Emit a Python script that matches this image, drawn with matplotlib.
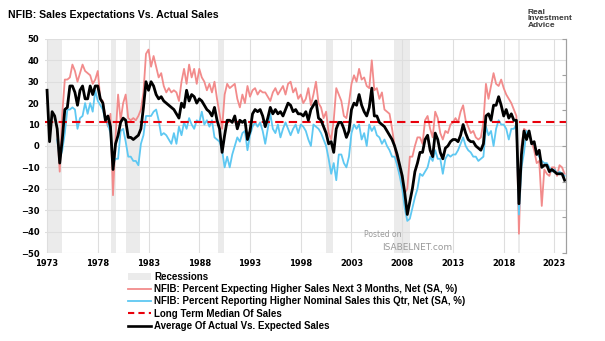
import numpy as np
import matplotlib
matplotlib.use("Agg")
import matplotlib.pyplot as plt
from matplotlib.patches import Patch
from matplotlib.lines import Line2D

# --- data (quarterly readings, first point ~ mid 1973) ---
start_date = 1973.7

black = [26, 2, 16, 14,
         8, -8, 3, 17, 18, 28, 28, 25, 19, 26, 28, 22, 22, 28, 24, 28,
         28, 22, 20, 12, 14, 9, -11, 1, 5, 11, 13, 12, 4, 4, 3, 4,
         5, 8, 18, 30, 26, 30, 28, 24, 22, 23, 21, 20, 19, 18, 17, 15,
         13, 20, 18, 26, 21, 24, 23, 20, 22, 21, 19, 17, 16, 14, 18, 12,
         8, -3, 5, 12, 12, 11, 14, 8, 12, 11, 12, 3, 7, 15, 17, 16,
         17, 14, 9, 13, 18, 15, 17, 15, 16, 14, 17, 20, 19, 16, 17, 15,
         15, 14, 16, 12, 17, 19, 21, 13, 12, 9, 6, 1, 2, -3, 8, 11,
         11, 8, 4, 7, 17, 20, 19, 24, 19, 16, 14, 18, 27, 14, 14, 11,
         10, 9, 7, 5, 3, 0, -4, -9, -14, -22, -32, -26, -20, -12, -8, -3,
         -3, 3, 5, -2, -5, 6, 3, -3, -6, -1, 0, 2, 3, 3, 2, 5,
         10, 6, 3, 2, 2, 0, -1, -2, 1, 14, 15, 12, 19, 19, 23, 19,
         14, 17, 13, 15, 12, 12, -27, -4, 7, 3, 7, 1, 2, -4, -2, -10,
         -9, -9, -12, -11, -12, -13, -13, -13, -16]

expected = [np.nan, np.nan, np.nan, np.nan,
            8, -12, 15, 31, 31, 32, 38, 35, 30, 34, 38, 35, 34, 33, 29, 31,
            35, 22, 21, 14, 9, 15, -23, 4, 24, 12, 20, 24, 13, 12, 13, 12,
            14, 17, 25, 43, 45, 37, 42, 37, 32, 34, 28, 25, 27, 25, 26, 25,
            21, 30, 36, 29, 38, 32, 36, 29, 36, 32, 30, 26, 29, 25, 30, 22,
            15, 8, 24, 29, 27, 28, 29, 22, 18, 24, 20, 28, 23, 26, 27, 24,
            26, 25, 25, 23, 21, 25, 27, 24, 26, 28, 24, 29, 30, 25, 27, 22,
            24, 20, 22, 27, 19, 24, 30, 20, 18, 13, 16, 6, 3, 12, 27, 24,
            21, 14, 13, 20, 29, 33, 30, 36, 31, 32, 28, 27, 40, 26, 27, 22,
            25, 17, 16, 15, 8, 0, -8, -13, -17, -22, -20, -5, -5, 0, 4, 4,
            1, 12, 14, 8, 4, 16, 13, 6, 3, 7, 6, 10, 11, 13, 11, 16,
            19, 12, 9, 6, 7, 4, 3, 4, 11, 29, 22, 28, 34, 29, 28, 31,
            27, 24, 22, 20, 17, 14, -41, 0, 8, 7, 5, 2, -2, -8, -7, -28,
            -11, -13, -14, -10, -10, -14, -9, -10, -13]

actual = [np.nan, np.nan, np.nan, np.nan,
          3, -6, -2, 6, 17, 17, 18, 17, 8, 13, 14, 20, 15, 20, 16, 26,
          21, 19, 17, 12, 10, 6, -8, -6, -6, 7, 8, 2, -5, -5, -7, -7,
          -9, 1, 5, 14, 14, 14, 16, 17, 12, 5, 6, 5, 3, 1, 6, 1,
          9, 5, 11, 8, 13, 10, 8, 12, 11, 16, 10, 12, 9, 12, 4, 3,
          2, -2, -10, -5, -10, -4, 0, 4, 2, 6, 7, -2, 5, 9, 11, 9,
          11, 7, 1, 8, 15, 8, 6, 10, 4, 8, 11, 8, 5, 8, 10, 6,
          10, 9, 7, 3, 0, 10, 9, 8, 6, 3, 0, -6, -13, -8, -16, -4,
          -4, -8, -10, -5, 6, 10, 8, 10, 3, 6, 0, 10, 7, 9, 5, 4,
          1, 3, 0, -2, -5, -5, -9, -14, -20, -29, -35, -34, -29, -24, -20, -13,
          -14, -12, -10, -5, -7, -2, -6, -6, -13, -6, -4, -5, -4, -4, -2, 1,
          4, 0, -2, -3, -5, -5, -7, -6, -5, 9, 5, 7, 0, 8, 12, 10,
          10, 8, 3, 8, 8, 10, -32, -10, -3, 7, 5, 2, 1, -3, -5, -7,
          -8, -8, -10, -12, -11, -13, -12, -13, -14]

median_sales = 11

rec_start = [1973.83, 1980.0, 1981.5, 1990.5, 2001.17, 2007.92, 2020.08]
rec_end = [1975.17, 1980.5, 1982.83, 1991.17, 2001.83, 2009.5, 2020.33]

tick_years = [1973, 1978, 1983, 1988, 1993, 1998, 2003, 2008, 2013, 2018, 2023]

dates = start_date + 0.25 * np.arange(len(black))

# --- figure ---
fig = plt.figure(figsize=(6.05, 3.41), dpi=100)
ax = fig.add_axes([0.0744, 0.258, 0.861, 0.628])

for s, e in zip(rec_start, rec_end):
    ax.axvspan(s, e, color='#ebebeb', lw=0, zorder=0)

ax.plot(dates, expected, color='#f28b8b', lw=1.3, zorder=2)
ax.plot(dates, actual, color='#5ec8f2', lw=1.3, zorder=3)
ax.axhline(median_sales, color='#e8000b', lw=1.5, ls=(0, (4, 2.5)), zorder=4)
ax.plot(dates, black, color='black', lw=2.0, zorder=5)

ax.set_xlim(1973.5, 2024.83)
ax.set_ylim(-50, 50)
ax.set_yticks(range(-50, 51, 10))
ax.set_xticks([y + 0.7 for y in tick_years])
ax.set_xticklabels([str(y) for y in tick_years])
ax.grid(True, color='#dedede', lw=0.8, zorder=1)
ax.set_axisbelow(True)
ax.tick_params(length=0, labelsize=6, pad=4)
for lab in ax.get_xticklabels() + ax.get_yticklabels():
    lab.set_fontweight('bold')
for sp in ['top', 'bottom', 'left']:
    ax.spines[sp].set_visible(False)
ax.spines['right'].set_color('#a0a0a0')

ax2 = ax.twinx()
ax2.set_ylim(0, 6)
ax2.set_yticks(range(7))
ax2.set_yticklabels([])
ax2.tick_params(direction='in', length=3, color='#a0a0a0')
for sp in ['top', 'bottom', 'left']:
    ax2.spines[sp].set_visible(False)
ax2.spines['right'].set_color('#a0a0a0')

# title and logo text
fig.text(0.013, 0.955, 'NFIB: Sales Expectations Vs. Actual Sales',
         family='Liberation Sans', fontsize=7.6, fontweight='bold',
         ha='left', va='center')
fig.text(0.872, 0.975, 'Real\nInvestment\nAdvice', family='Liberation Sans',
         fontsize=6, fontweight='bold', color='#3a3a3a', ha='left', va='top',
         linespacing=0.95)

fig.text(0.632, 0.305, 'Posted on', fontsize=5.5, color='#999999', ha='center')
fig.text(0.69, 0.268, 'ISABELNET.com', fontsize=6.5, color='#999999', ha='center')

handles = [Patch(facecolor='#ebebeb', edgecolor='none'),
           Line2D([], [], color='#f28b8b', lw=1.3),
           Line2D([], [], color='#5ec8f2', lw=1.3),
           Line2D([], [], color='#e8000b', lw=1.5, ls=(0, (3, 2))),
           Line2D([], [], color='black', lw=1.9)]
labels = ['Recessions',
          'NFIB: Percent Expecting Higher Sales Next 3 Months, Net (SA, %)',
          'NFIB: Percent Reporting Higher Nominal Sales this Qtr, Net (SA, %)',
          'Long Term Median Of Sales',
          'Average Of Actual Vs. Expected Sales']
leg = fig.legend(handles, labels, loc='upper left', bbox_to_anchor=(0.205, 0.215),
                 frameon=False, handlelength=2.4, handletextpad=0.3,
                 labelspacing=0.25, borderaxespad=0,
                 prop={'family': 'Liberation Sans', 'weight': 'bold', 'size': 7})

fig.savefig('out.png', dpi=100)
